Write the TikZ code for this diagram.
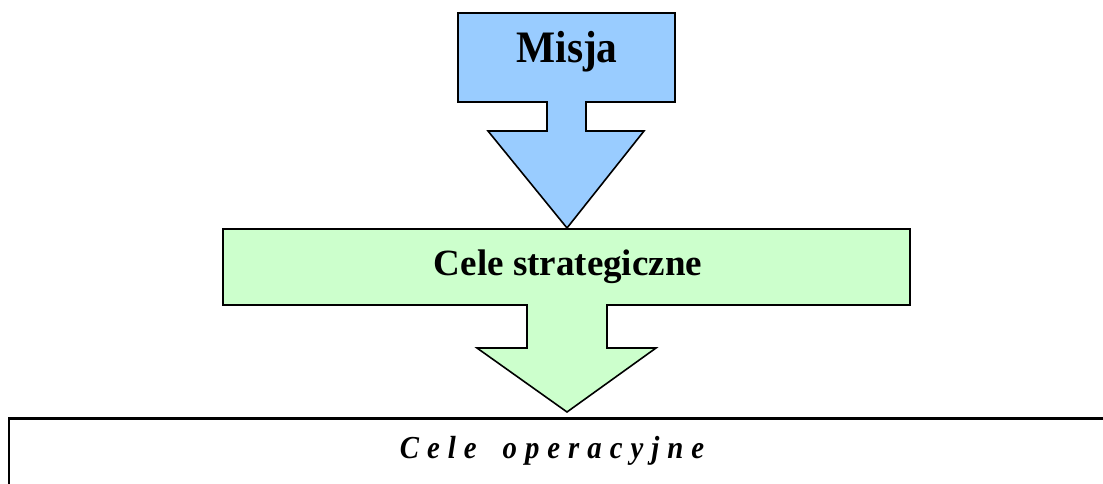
\documentclass[tikz,border=0pt]{standalone}
\usepackage{fontspec}
\setmainfont{Liberation Serif}
\newfontfamily\operfont[FakeStretch=0.9]{Liberation Serif}
\newfontfamily\misjafont[FakeStretch=0.92]{Liberation Serif}
\definecolor{misjablue}{HTML}{99CCFF}
\definecolor{celegreen}{HTML}{CCFFCC}
\newcommand\lsp{\hspace{8pt}}
\begin{document}
\begin{tikzpicture}[x=1pt,y=-1pt,
  shapeblock/.style={draw=black,line width=1.6pt,line join=miter},
  bigtext/.style={font=\misjafont\bfseries\fontsize{45}{45}\selectfont,anchor=base,inner sep=0pt},
  midtext/.style={font=\bfseries\fontsize{37}{37}\selectfont,anchor=base,inner sep=0pt},
  lowtext/.style={font=\operfont\bfseries\itshape\fontsize{32}{32}\selectfont,anchor=base,inner sep=0pt}]
\useasboundingbox (0,0) rectangle (1103,484);
\clip (0,0) rectangle (1103,484);
\fill[white] (0,0) rectangle (1103,484);
% Misja block arrow
\draw[shapeblock,fill=misjablue] (458,13) -- (675,13) -- (675,102) -- (586,102) -- (586,131)
  -- (644,131) -- (567,228) -- (488,131) -- (547,131) -- (547,102) -- (458,102) -- cycle;
% Cele strategiczne block arrow
\draw[shapeblock,fill=celegreen] (223,229) -- (910,229) -- (910,305) -- (607,305) -- (607,348)
  -- (656,348) -- (567,412) -- (477,348) -- (527,348) -- (527,305) -- (223,305) -- cycle;
% Cele operacyjne box
\draw[draw=black,line width=2.2pt] (9,418.5) rectangle (1120,520);
\node[bigtext] (misja) at (567,63) {Misja};
\node[midtext] (strat) at (568,275) {Cele strategiczne};
\node[lowtext] (oper) at (552,458) {C\lsp e\lsp l\lsp e\hspace{26pt}o\lsp p\lsp e\lsp r\lsp a\lsp c\lsp y\lsp j\lsp n\lsp e};
\end{tikzpicture}
\end{document}
